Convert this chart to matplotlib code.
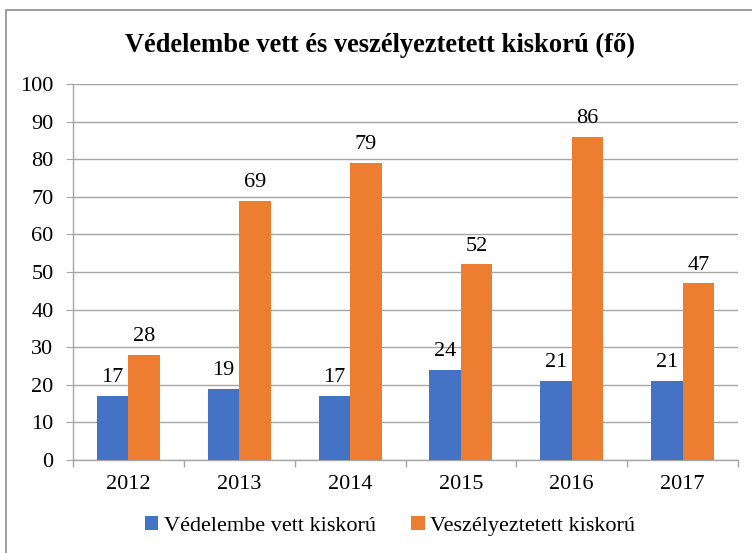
import matplotlib
matplotlib.use("Agg")
import matplotlib.pyplot as plt
import numpy as np
from matplotlib.patches import Rectangle

years = ["2012", "2013", "2014", "2015", "2016", "2017"]
vedelembe = [17, 19, 17, 24, 21, 21]
veszely = [28, 69, 79, 52, 86, 47]
series_names = ["Védelembe vett kiskorú", "Veszélyeztetett kiskorú"]
title = "Védelembe vett és veszélyeztetett kiskorú (fő)"

plt.rcParams['font.family'] = ['Liberation Serif', 'DejaVu Serif']

fig = plt.figure(figsize=(7.52, 5.53), dpi=100)
W, H = 752, 553
ax = fig.add_axes([73 / W, 1 - 460 / H, (738 - 73) / W, (460 - 84) / H])

x = np.arange(len(years))
bw = 0.284
blue = "#4472C4"
orange = "#ED7D31"
b1 = ax.bar(x - bw / 2, vedelembe, bw, color=blue, label=series_names[0], zorder=3)
b2 = ax.bar(x + bw / 2, veszely, bw, color=orange, label=series_names[1], zorder=3)

FS = 16
for rects, vals in ((b1, vedelembe), (b2, veszely)):
    for r, v in zip(rects, vals):
        ax.text(r.get_x() + r.get_width() / 2, v + 2.3, str(v), ha="center", va="bottom",
                fontsize=FS, color="#000000")

ax.set_xlim(-0.5, len(years) - 0.5)
ax.set_ylim(0, 100)
ax.set_yticks(range(0, 101, 10))
ax.set_xticks(x)
ax.set_xticklabels(years)
ax.set_xticks(np.arange(-0.5, len(years)), minor=True)
ax.tick_params(axis="x", which="major", length=0, labelsize=FS, pad=11)
ax.tick_params(axis="x", which="minor", length=5, color="#a6a6a6", width=1)
ax.tick_params(axis="y", length=5, color="#a6a6a6", labelsize=FS, pad=9)
ax.yaxis.grid(True, color="#a6a6a6", linewidth=1, zorder=0)
for s in ("top", "right"):
    ax.spines[s].set_visible(False)
for s in ("left", "bottom"):
    ax.spines[s].set_color("#a6a6a6")
    ax.spines[s].set_linewidth(1)

fig.text(380 / W, 1 - 52 / H, title, ha="center", va="baseline",
         fontsize=19.1, fontweight="bold")

leg = fig.legend(loc="center", bbox_to_anchor=(390 / W, 1 - 526 / H), ncol=2,
                 frameon=False, fontsize=FS, handlelength=0.6, handleheight=0.6,
                 handletextpad=0.25, columnspacing=1.6)

fig.patches.append(Rectangle((6 / W, -0.1), 1.2, 1 - 10 / H + 0.1, transform=fig.transFigure,
                             fill=False, edgecolor="#8c8c8c", linewidth=1.2))

fig.savefig("out.png", dpi=100)
